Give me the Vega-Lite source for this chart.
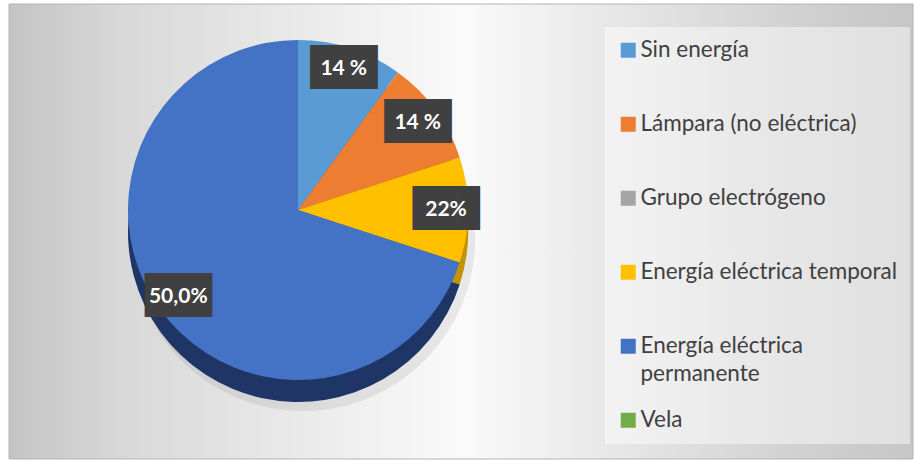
{
  "$schema": "https://vega.github.io/schema/vega-lite/v6.json",
  "width": 914,
  "height": 460,
  "autosize": {"type": "fit", "contains": "padding"},
  "padding": {"left": 8, "top": 3, "right": 0, "bottom": 0},
  "background": "#ffffff",
  "config": {
    "font": "Lato",
    "view": {"stroke": null}
  },
  "data": {
    "values": [
      {"categoria": "Sin energía", "valor": 10, "etiqueta": "14 %", "orden": 1},
      {"categoria": "Lámpara (no eléctrica)", "valor": 10, "etiqueta": "14 %", "orden": 2},
      {"categoria": "Grupo electrógeno", "valor": 0, "etiqueta": "", "orden": 3},
      {"categoria": "Energía eléctrica temporal", "valor": 10, "etiqueta": "22%", "orden": 4},
      {"categoria": "Energía eléctrica permanente", "valor": 70, "etiqueta": "50,0%", "orden": 5},
      {"categoria": "Vela", "valor": 0, "etiqueta": "", "orden": 6}
    ]
  },
  "layer": [
    {
      "data": {"values": [{"fondo": "área del gráfico"}]},
      "mark": {
        "type": "rect",
        "stroke": "#b4b4b4",
        "strokeWidth": 1,
        "fill": {
          "gradient": "linear",
          "x1": 0, "y1": 0, "x2": 1, "y2": 0,
          "stops": [
            {"offset": 0, "color": "#c4c4c4"},
            {"offset": 0.124, "color": "#d8d8d8"},
            {"offset": 0.5, "color": "#fafafa"},
            {"offset": 0.86, "color": "#d2d2d2"},
            {"offset": 1, "color": "#c6c6c6"}
          ]
        }
      },
      "encoding": {
        "x": {"value": 0},
        "x2": {"value": "width"},
        "y": {"value": 0},
        "y2": {"value": "height"}
      }
    },
    {
      "mark": {"type": "arc", "x": 294, "y": 235, "outerRadius": 172, "color": "#000000", "opacity": 0.07},
      "encoding": {
        "theta": {"field": "valor", "type": "quantitative", "stack": true},
        "order": {"field": "orden", "type": "quantitative"}
      }
    },
    {
      "mark": {"type": "arc", "x": 289, "y": 228, "outerRadius": 170},
      "encoding": {
        "theta": {"field": "valor", "type": "quantitative", "stack": true},
        "order": {"field": "orden", "type": "quantitative"},
        "color": {
          "field": "categoria",
          "type": "nominal",
          "scale": {
            "domain": ["Sin energía", "Lámpara (no eléctrica)", "Grupo electrógeno", "Energía eléctrica temporal", "Energía eléctrica permanente", "Vela"],
            "range": ["#3a6ea5", "#b35a1f", "#7a7a7a", "#c39200", "#1f3566", "#4f7d32"]
          },
          "legend": null
        }
      }
    },
    {
      "mark": {"type": "arc", "x": 289, "y": 206, "outerRadius": 170},
      "encoding": {
        "theta": {"field": "valor", "type": "quantitative", "stack": true},
        "order": {"field": "orden", "type": "quantitative"},
        "color": {
          "field": "categoria",
          "type": "nominal",
          "scale": {
            "domain": ["Sin energía", "Lámpara (no eléctrica)", "Grupo electrógeno", "Energía eléctrica temporal", "Energía eléctrica permanente", "Vela"],
            "range": ["#5b9bd5", "#ed7d31", "#a5a5a5", "#ffc000", "#4472c4", "#70ad47"]
          },
          "legend": {
            "orient": "none",
            "legendX": 596,
            "legendY": 23,
            "direction": "vertical",
            "title": null,
            "symbolType": "square",
            "symbolSize": 225,
            "symbolStrokeWidth": 0,
            "labelFont": "Lato",
            "labelFontSize": 22.5,
            "labelColor": "#404040",
            "labelLimit": 320,
            "labelOffset": 1,
            "rowPadding": 23,
            "padding": 12,
            "fillColor": "rgba(255,255,255,0.45)",
            "labelExpr": "datum.label == 'Energía eléctrica permanente' ? ['Energía eléctrica', 'permanente'] : (datum.label == 'Vela' ? datum.label : [datum.label, ''])",
            "encode": {
              "labels": {
                "update": {
                  "lineHeight": {"value": 28}
                }
              }
            }
          }
        }
      }
    },
    {
      "transform": [{"filter": "datum.valor > 0"}],
      "mark": {"type": "text", "x": 289, "y": 206, "radius": 148, "text": "███", "font": "DejaVu Sans Mono", "fontSize": 37, "color": "#404040", "baseline": "middle"},
      "encoding": {
        "theta": {"field": "valor", "type": "quantitative", "stack": true},
        "order": {"field": "orden", "type": "quantitative"}
      }
    },
    {
      "transform": [{"filter": "datum.valor > 0"}],
      "mark": {"type": "text", "x": 289, "y": 206, "radius": 148, "font": "Lato", "fontSize": 21, "fontWeight": "bold", "color": "#ffffff", "baseline": "middle"},
      "encoding": {
        "theta": {"field": "valor", "type": "quantitative", "stack": true},
        "order": {"field": "orden", "type": "quantitative"},
        "text": {"field": "etiqueta", "type": "nominal"}
      }
    }
  ],
  "resolve": {"scale": {"color": "independent"}}
}
